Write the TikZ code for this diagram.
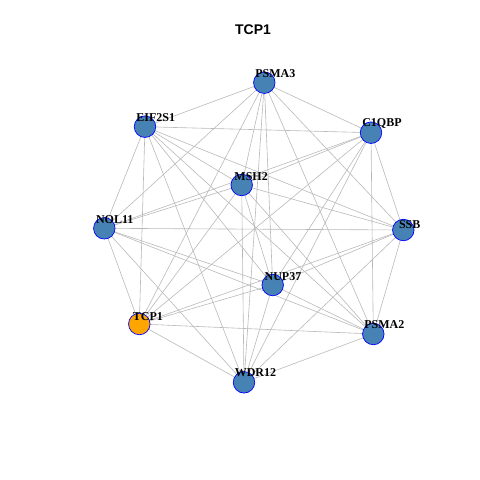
\documentclass[tikz,border=0pt]{standalone}
\usepackage{fontspec}
\setmainfont{Liberation Serif}
\newfontfamily\titlefont{Liberation Sans}
\usepackage{tikz}
\usetikzlibrary{backgrounds,calc}
\definecolor{SteelB}{RGB}{70,130,180}
\definecolor{HubOr}{RGB}{255,165,0}
\definecolor{EdgeG}{RGB}{185,185,185}
\tikzset{
  vtx/.style={circle,draw=blue,line width=0.7pt,fill=SteelB,
              minimum size=21.5pt,inner sep=0pt},
  hub/.style={vtx,fill=HubOr},
  lnk/.style={draw=EdgeG,line width=0.6pt},
  lbl/.style={font=\fontsize{12}{12}\selectfont\bfseries,inner sep=0pt},
}
\begin{document}
\begin{tikzpicture}[x=1pt,y=-1pt]
  \useasboundingbox (0,0) rectangle (480,480);
  \node[font=\titlefont\fontsize{14}{14}\selectfont\bfseries] (title) at (253,30) {TCP1};
  \node[vtx] (PSMA3)  at (264.3,82.7) {};
  \node[vtx] (EIF2S1) at (145.0,126.7) {};
  \node[vtx] (C1QBP)  at (371.0,132.7) {};
  \node[vtx] (MSH2)   at (241.7,185.0) {};
  \node[vtx] (NOL11)  at (104.3,228.3) {};
  \node[vtx] (SSB)    at (403.3,230.0) {};
  \node[vtx] (NUP37)  at (272.7,285.0) {};
  \node[hub] (TCP1)   at (139.3,324.0) {};
  \node[vtx] (PSMA2)  at (373.3,334.0) {};
  \node[vtx] (WDR12)  at (244.0,382.3) {};
  % every pair is linked
  \begin{scope}[on background layer]
    \foreach \a [count=\i] in {PSMA3,EIF2S1,C1QBP,MSH2,NOL11,SSB,NUP37,TCP1,PSMA2,WDR12}
      \foreach \b [count=\j] in {PSMA3,EIF2S1,C1QBP,MSH2,NOL11,SSB,NUP37,TCP1,PSMA2,WDR12}
        {\ifnum\j>\i \draw[lnk] (\a.center) -- (\b.center);\fi}
  \end{scope}
  % labels sit up and right, by about a quarter of their width
  \foreach \g in {PSMA3,EIF2S1,C1QBP,MSH2,NOL11,SSB,NUP37,TCP1,PSMA2,WDR12}{
    \path (\g.center) node[lbl] (m\g) {\phantom{\g}};
    \path let \p1=($(m\g.east)-(m\g.west)$) in
      (\g.center) ++({0.25*\x1+1pt},{0.2*\x1+1.5pt}) node[lbl] (l\g) {\g};
  }
\end{tikzpicture}
\end{document}
